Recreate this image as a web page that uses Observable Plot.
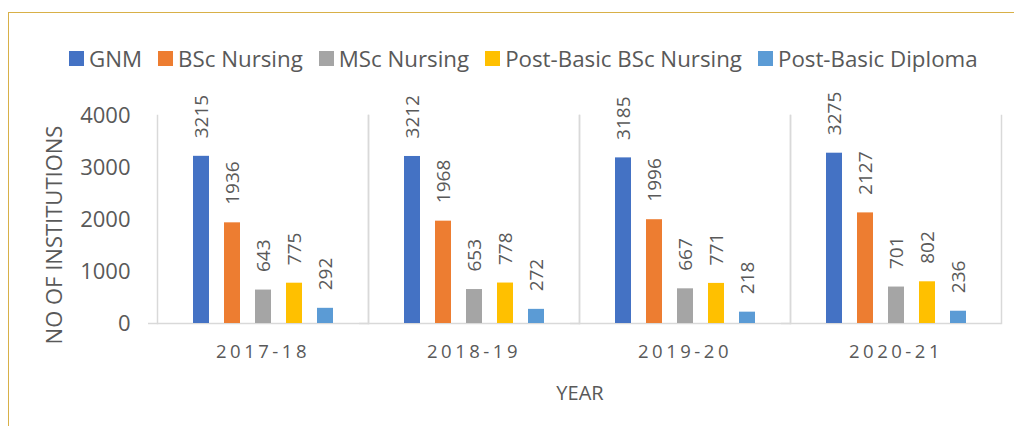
<!DOCTYPE html>
<html>
<head>
<meta charset="utf-8">
<script src="https://cdn.jsdelivr.net/npm/d3@7"></script>
<script src="https://cdn.jsdelivr.net/npm/@observablehq/plot@0.6"></script>
<style>
  html, body { margin: 0; padding: 0; background: #fff; width: 1014px; height: 426px; overflow: hidden; position: relative; }
  body { font-family: "Open Sans", sans-serif; color: #595959; }
  .frame { position: absolute; left: 8px; top: 12px; width: 1020px; height: 430px;
           border-left: 1.5px solid #d8b048; border-top: 1.5px solid #d8b048; }
  .legend { position: absolute; left: 69px; top: 43px; display: flex; align-items: center;
            font-size: 22.3px; color: #595959; white-space: nowrap; }
  .legend .item { display: flex; align-items: center; margin-right: 16px; }
  .legend .sw { width: 15px; height: 15px; margin-right: 5px; }
  .ylabel { position: absolute; left: 53px; top: 235px; transform: translate(-50%, -50%) rotate(-90deg);
            font-size: 22px; color: #595959; white-space: nowrap; }
  .xlabel { position: absolute; left: 580px; top: 392px; transform: translate(-50%, -50%);
            font-size: 20px; color: #595959; white-space: nowrap; }
  #chart { position: absolute; left: 0; top: 90px; }
  #chart svg g[aria-label="fx-axis tick label"] text { letter-spacing: 3.5px; }
</style>
</head>
<body>
<div class="frame"></div>
<div class="legend" id="legend"></div>
<div id="chart"></div>
<div class="ylabel" id="ylabel"></div>
<div class="xlabel" id="xlabel"></div>
<script>
const years = ["2017-18", "2018-19", "2019-20", "2020-21"];
const series = ["GNM", "BSc Nursing", "MSc Nursing", "Post-Basic BSc Nursing", "Post-Basic Diploma"];
const colors = ["#4472C4", "#ED7D31", "#A5A5A5", "#FFC000", "#5B9BD5"];
const gnm = [3215, 3212, 3185, 3275];
const bscNursing = [1936, 1968, 1996, 2127];
const mscNursing = [643, 653, 667, 701];
const postBasicBsc = [775, 778, 771, 802];
const postBasicDiploma = [292, 272, 218, 236];
const yTicks = [0, 1000, 2000, 3000, 4000];
const yTitle = "NO OF INSTITUTIONS";
const xTitle = "YEAR";

const seriesValues = [gnm, bscNursing, mscNursing, postBasicBsc, postBasicDiploma];
const data = [];
years.forEach((year, i) => {
  series.forEach((s, j) => data.push({ year, series: s, value: seriesValues[j][i] }));
});

// legend
const legend = document.getElementById("legend");
series.forEach((s, j) => {
  const item = document.createElement("div");
  item.className = "item";
  const sw = document.createElement("span");
  sw.className = "sw";
  sw.style.background = colors[j];
  const label = document.createElement("span");
  label.textContent = s;
  item.appendChild(sw);
  item.appendChild(label);
  legend.appendChild(item);
});
document.getElementById("ylabel").textContent = yTitle;
document.getElementById("xlabel").textContent = xTitle;

const chart = Plot.plot({
  width: 1014,
  height: 336,
  marginLeft: 157,
  marginRight: 13,
  marginTop: 25,
  marginBottom: 103,
  style: { fontFamily: "Open Sans, sans-serif", color: "#595959", background: "transparent" },
  fx: { domain: years, padding: 0, axis: null },
  x: { domain: series, paddingInner: 0.484, paddingOuter: 1.145, axis: null },
  y: { domain: [0, 4000], axis: null },
  color: { domain: series, range: colors },
  marks: [
    Plot.frame({ anchor: "left", stroke: "#d9d9d9", strokeWidth: 1.5 }),
    Plot.frame({ anchor: "right", stroke: "#d9d9d9", strokeWidth: 1.5 }),
    Plot.ruleY([0], { stroke: "#d9d9d9", strokeWidth: 1.5, insetLeft: -9 }),
    Plot.axisY({ ticks: yTicks, tickFormat: d => String(d), tickSize: 0, tickPadding: 27, fontSize: 22, label: null }),
    Plot.axisFx({ anchor: "bottom", tickSize: 0, tickPadding: 21, fontSize: 18.5, label: null }),
    Plot.barY(data, { fx: "year", x: "series", y: "value", fill: "series" }),
    Plot.text(data, { fx: "year", x: "series", y: "value", text: d => String(d.value),
                      rotate: -90, textAnchor: "start", lineAnchor: "middle", dy: -18,
                      fill: "#595959", fontSize: 19 })
  ]
});
document.getElementById("chart").appendChild(chart);
</script>
</body>
</html>
